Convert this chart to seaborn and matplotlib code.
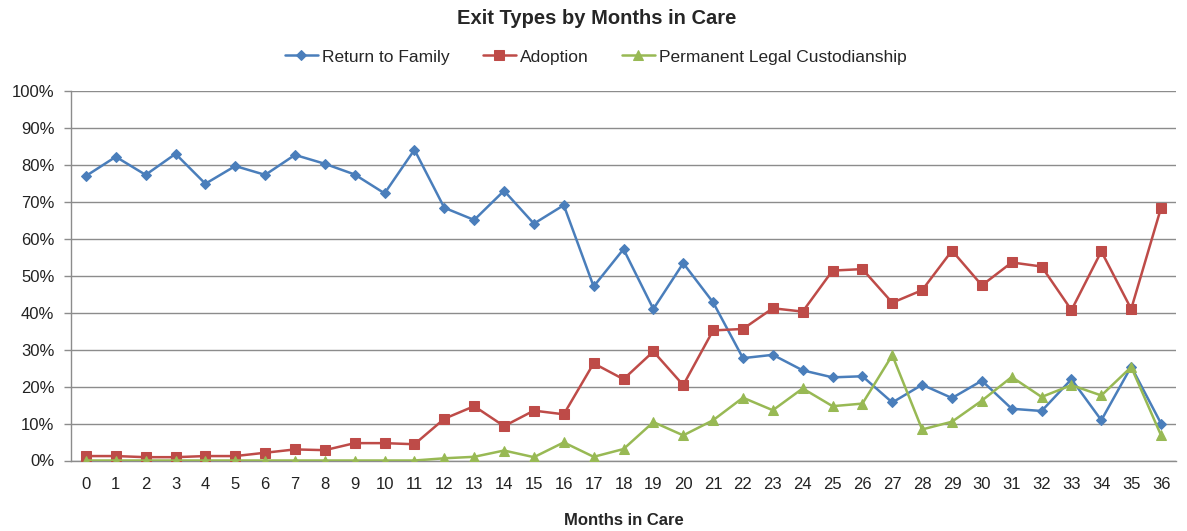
import numpy as np
import pandas as pd
import matplotlib
matplotlib.use("Agg")
import matplotlib.pyplot as plt
from matplotlib.ticker import FixedLocator, PercentFormatter
import seaborn as sns

months = list(range(37))

return_to_family = [77.0, 82.2, 77.3, 83.0, 74.9, 79.7, 77.3, 82.7, 80.3, 77.4,
                    72.3, 84.1, 68.4, 65.1, 73.0, 64.1, 69.1, 47.1, 57.2, 41.0,
                    53.4, 42.8, 27.7, 28.6, 24.4, 22.5, 22.8, 15.7, 20.5, 16.9,
                    21.6, 14.0, 13.4, 22.0, 10.9, 25.4, 10.0]
adoption = [1.2, 1.2, 0.9, 0.9, 1.2, 1.2, 2.1, 3.0, 2.8, 4.7,
            4.7, 4.4, 11.3, 14.7, 9.3, 13.5, 12.5, 26.3, 22.0, 29.5,
            20.4, 35.2, 35.6, 41.2, 40.3, 51.4, 51.8, 42.7, 46.1, 56.8,
            47.4, 53.6, 52.5, 40.7, 56.6, 41.0, 68.4]
custodianship = [0.0, 0.0, 0.0, 0.0, 0.0, 0.0, 0.0, 0.0, 0.0, 0.0,
                 0.0, 0.0, 0.6, 1.0, 2.7, 0.9, 4.9, 1.0, 3.1, 10.4,
                 6.8, 10.9, 17.0, 13.6, 19.5, 14.7, 15.4, 28.5, 8.4, 10.5,
                 16.2, 22.6, 17.2, 20.4, 17.6, 25.3, 6.8]

series_names = ["Return to Family", "Adoption", "Permanent Legal Custodianship"]
series_values = [return_to_family, adoption, custodianship]

df = pd.concat(
    [pd.DataFrame({"month": months, "share": vals, "exit": name})
     for name, vals in zip(series_names, series_values)],
    ignore_index=True,
)

sns.set_style("white")
plt.rcParams["font.family"] = ["Liberation Sans", "DejaVu Sans"]

W, H = 1187, 531
fig = plt.figure(figsize=(W / 100, H / 100), dpi=100)
ax = fig.add_axes([71 / W, 1 - 460.5 / H, (1176 - 71) / W, (460.5 - 91) / H])

palette = {"Return to Family": "#4A7EBB",
           "Adoption": "#BE4B48",
           "Permanent Legal Custodianship": "#98B954"}
markers = {"Return to Family": "D",
           "Adoption": "s",
           "Permanent Legal Custodianship": "^"}
sizes = {"Return to Family": 5.5, "Adoption": 6.5, "Permanent Legal Custodianship": 6.5}

for name in series_names:
    sub = df[df["exit"] == name]
    sns.lineplot(data=sub, x="month", y="share", ax=ax, color=palette[name],
                 marker=markers[name], markersize=sizes[name],
                 markeredgecolor=palette[name], linewidth=1.8, label=name,
                 zorder=3)

ax.set_xlim(-0.5, 36.5)
ax.set_ylim(0, 100)
ax.yaxis.set_major_locator(FixedLocator(np.arange(0, 101, 10)))
ax.yaxis.set_major_formatter(PercentFormatter(decimals=0))
ax.set_xticks(months)
ax.set_xticklabels([str(m) for m in months])
ax.xaxis.set_minor_locator(FixedLocator(np.arange(-0.5, 37, 1)))

ax.grid(axis="y", color="#8c8c8c", linewidth=1.0, zorder=0)
ax.grid(axis="x", visible=False)
for side in ["top", "right"]:
    ax.spines[side].set_visible(False)
for side in ["left", "bottom"]:
    ax.spines[side].set_color("#8c8c8c")
    ax.spines[side].set_linewidth(1.0)

ax.tick_params(axis="x", which="major", length=0, pad=12, labelsize=12, colors="#222222")
ax.tick_params(axis="x", which="minor", length=5, width=1, color="#8c8c8c", direction="out")
ax.tick_params(axis="y", which="major", length=5, width=1, color="#8c8c8c",
               direction="out", pad=7, labelsize=12, labelcolor="#222222", left=True)

ax.set_xlabel("Months in Care", fontsize=12, fontweight="bold", labelpad=15)
ax.set_ylabel("")

fig.suptitle("Exit Types by Months in Care", x=596.5 / W,
             y=1 - 9 / H, fontsize=14.5, fontweight="bold", va="top")

ax.legend(loc="center", bbox_to_anchor=(((596 - 71) / (1176 - 71)), 1 + (91 - 57) / (460.5 - 91)),
          ncol=3, frameon=False, fontsize=12.5, handlelength=1.9,
          columnspacing=1.9, handletextpad=0.25, borderaxespad=0)

fig.savefig("out.png", dpi=100, facecolor="white")
